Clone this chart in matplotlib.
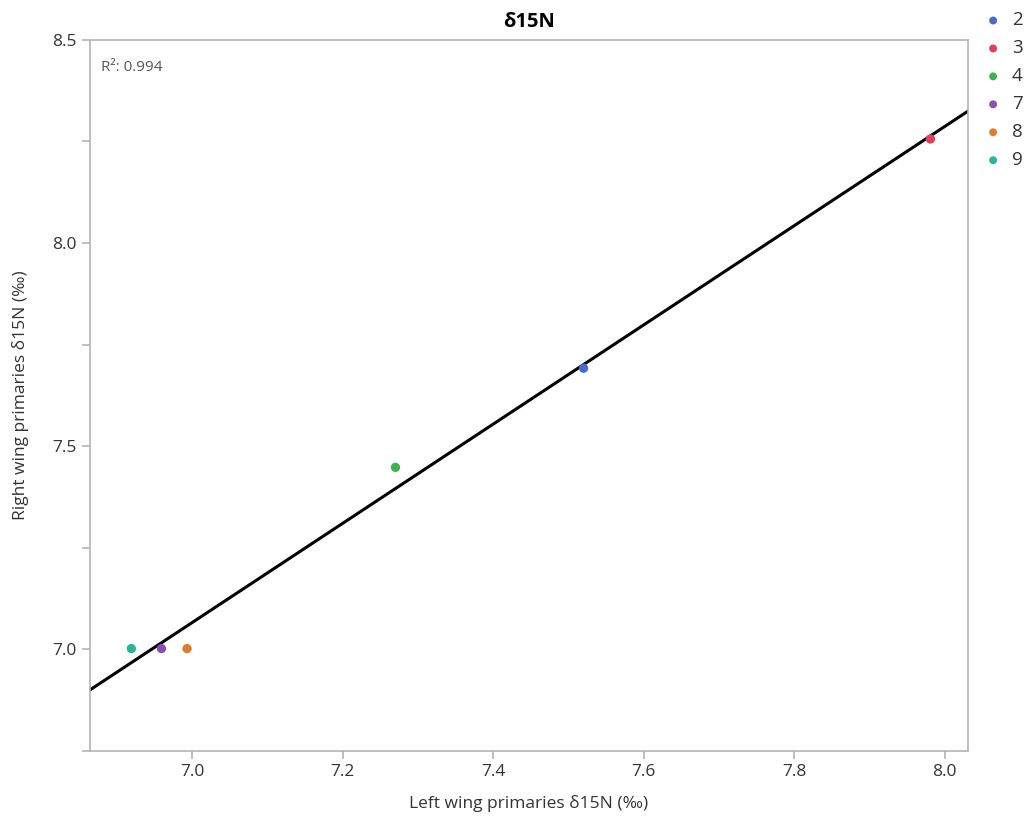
import numpy as np
import matplotlib
matplotlib.use('Agg')
from matplotlib import pyplot as plt
from matplotlib.ticker import MultipleLocator, FuncFormatter

plt.rcParams['font.family'] = ['Open Sans', 'DejaVu Sans']

# data
groups = ['2', '3', '4', '7', '8', '9']
left_wing = [7.520, 7.981, 7.270, 6.959, 6.993, 6.919]
right_wing = [7.692, 8.256, 7.448, 7.002, 7.002, 7.002]
colors = ['#4a6bc8', '#e0405a', '#3fb34f', '#8a4fb5', '#dd7e2a', '#2bb596']

x = np.array(left_wing)
y = np.array(right_wing)
slope, intercept = np.polyfit(x, y, 1)
r2 = np.corrcoef(x, y)[0, 1] ** 2

fig = plt.figure(figsize=(10.27, 8.24), dpi=100)
ax = fig.add_axes([0.0876, 0.0886, 0.855, 0.863])

xlim = (6.864, 8.031)
ylim = (6.75, 8.5)
xs = np.array(xlim)
ax.plot(xs, slope * xs + intercept, color='black', lw=2.2, zorder=2)

for g, xv, yv, c in zip(groups, left_wing, right_wing, colors):
    ax.scatter(xv, yv, s=45, color=c, label=g, zorder=3, edgecolors='none')

ax.set_xlim(xlim)
ax.set_ylim(ylim)
ax.xaxis.set_major_locator(MultipleLocator(0.2))
ax.yaxis.set_major_locator(MultipleLocator(0.25))
ax.xaxis.set_major_formatter(FuncFormatter(lambda v, p: f'{v:.1f}'))
ax.yaxis.set_major_formatter(FuncFormatter(
    lambda v, p: f'{v:.1f}' if abs(v * 2 - round(v * 2)) < 1e-6 else ''))

for s in ax.spines.values():
    s.set_color('#b4b4b4')
    s.set_linewidth(1.2)
ax.tick_params(colors='#b4b4b4', labelcolor='#333333', labelsize=12.5,
               length=6, width=1.2)

ax.set_title('δ15N', fontsize=14.5, fontweight='bold', pad=9)
ax.set_xlabel('Left wing primaries δ15N (‰)', fontsize=12.5, color='#333333', labelpad=11)
ax.set_ylabel('Right wing primaries δ15N (‰)', fontsize=12.5, color='#333333', labelpad=17)

ax.text(0.013, 0.972, f'R²: {r2:.3f}', transform=ax.transAxes, fontsize=11,
        color='#555555', va='top', ha='left')

leg = ax.legend(loc='upper left', bbox_to_anchor=(1.020, 1.040), frameon=False,
                fontsize=13.5, handlelength=0.8, handletextpad=0.6,
                labelspacing=0.53, markerscale=0.85, borderpad=0,
                borderaxespad=0)
for t in leg.get_texts():
    t.set_color('#333333')

fig.savefig('out.png', dpi=100)
